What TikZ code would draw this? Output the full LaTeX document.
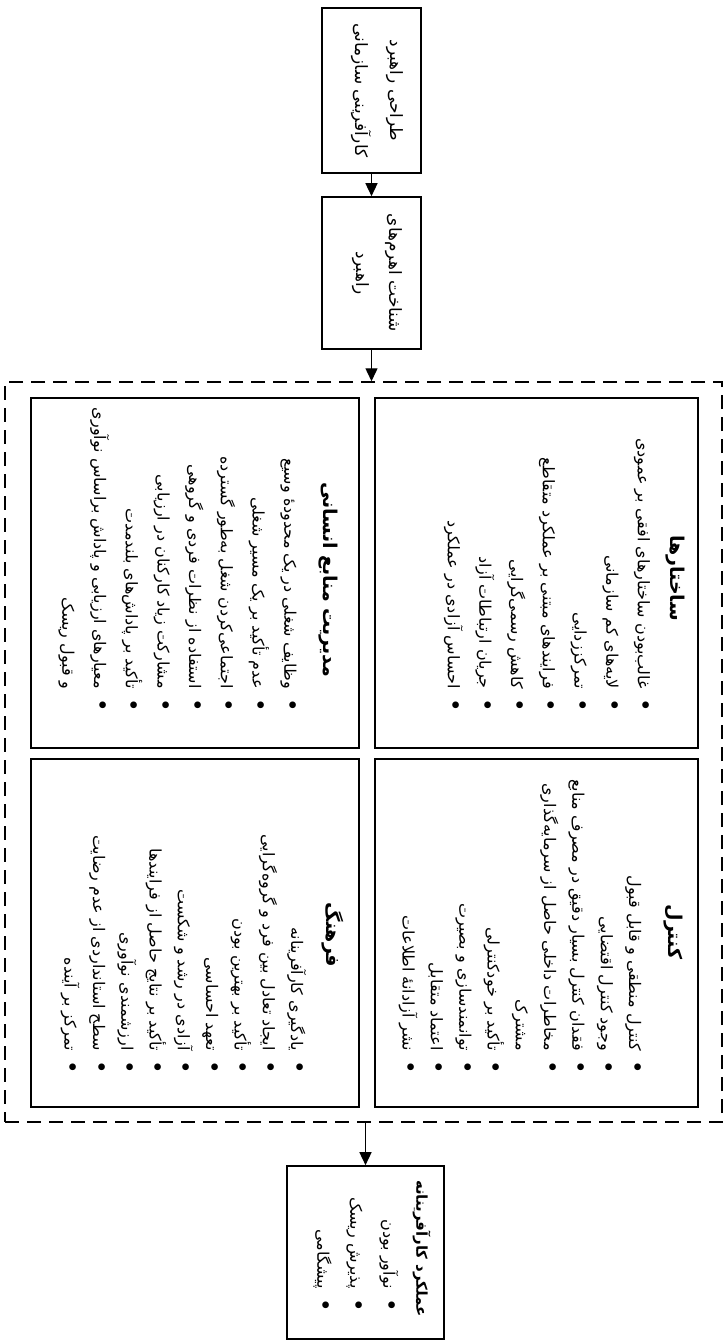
\documentclass[tikz,border=0pt]{standalone}
\usepackage{fontspec}
\usetikzlibrary{arrows.meta}
\TeXXeTstate=1
\newfontfamily\fa[Script=Arabic]{DejaVu Sans}
% one right-to-left line, a bulleted line, and a continued line
\newcommand{\rl}[1]{\beginR#1\endR}
\newcommand{\itm}[1]{\beginR\makebox[1.15em][r]{\fontsize{23}{23}\selectfont •}\hspace{0.6em}#1\endR}
\newcommand{\cont}[1]{\beginR\hspace{1.75em}#1\endR}

\begin{document}
\begin{tikzpicture}[x=1pt,y=1pt,
    flowbox/.style={draw, line width=1.6pt, inner sep=0pt},
    group/.style={draw, line width=1.5pt, dash pattern=on 14pt off 8pt, inner sep=0pt},
    heading/.style={rotate=-90, inner sep=0pt, font=\fa\bfseries\fontsize{19}{24}\selectfont},
    items/.style={rotate=-90, anchor=east, align=right, inner sep=0pt},
    link/.style={line width=1.4pt, -{Triangle[width=12pt,length=13pt]}}]
\useasboundingbox (0,0) rectangle (726,-1341);

% boxes
\node[flowbox, minimum width=99, minimum height=165] (design) at (371.5,-90.5) {};
\node[flowbox, minimum width=99, minimum height=152] (levers) at (371.5,-273) {};
\node[group, minimum width=717, minimum height=740] (group) at (363.5,-752) {};
\node[flowbox, minimum width=323, minimum height=350] (struct) at (536.5,-573) {};
\node[flowbox, minimum width=323, minimum height=348] (control) at (536.5,-933) {};
\node[flowbox, minimum width=328, minimum height=350] (hrm) at (195,-573) {};
\node[flowbox, minimum width=328, minimum height=348] (culture) at (195,-933) {};
\node[flowbox, minimum width=157, minimum height=173] (perf) at (365.5,-1252.5) {};

% arrows
\draw[link] (design) -- (levers);
\draw[link] (levers) -- (levers |- group.north);
\draw[link] (group.south -| perf) -- (perf);

% texts
\node[rotate=-90, align=center, inner sep=0pt, font=\fa\fontsize{17}{35}\selectfont] (designtext) at (377,-90.5)
  {\rl{طراحی راهبرد}\\ \rl{کارآفرینی سازمانی}};
\node[rotate=-90, align=center, inner sep=0pt, font=\fa\fontsize{17}{33}\selectfont] (leverstext) at (377,-273)
  {\rl{شناخت اهرم^^^^200cهای}\\ \rl{راهبرد}};

\node[heading] (structhead) at (675,-578) {\rl{ساختارها}};
\node[items, font=\fa\fontsize{16}{31.7}\selectfont] (structlist) at (547,-717) {%
  \itm{غالب^^^^200cبودن ساختارهای افقی بر عمودی}\\
  \itm{لایه^^^^200cهای کم سازمانی}\\
  \itm{تمرکززدایی}\\
  \itm{فرایندهای مبتنی بر عملکرد متقاطع}\\
  \itm{کاهش رسمی^^^^200cگرایی}\\
  \itm{جریان ارتباطات آزاد}\\
  \itm{احساس آزادی در عملکرد}};

\node[heading] (controlhead) at (673,-932) {\rl{کنترل}};
\node[items, font=\fa\fontsize{16}{28.3}\selectfont] (controllist) at (520,-1079) {%
  \itm{کنترل منطقی و قابل قبول}\\
  \itm{وجود کنترل اقتضایی}\\
  \itm{فقدان کنترل بسیار دقیق در مصرف منابع}\\
  \itm{مخاطرات داخلی حاصل از سرمایه^^^^200cگذاری}\\
  \cont{مشترک}\\
  \itm{تأکید بر خودکنترلی}\\
  \itm{توانمندسازی و بصیرت}\\
  \itm{اعتماد متقابل}\\
  \itm{نشر آزادانهٔ اطلاعات}};

\node[heading] (hrmhead) at (328,-580) {\rl{مدیریت منابع انسانی}};
\node[items, font=\fa\fontsize{16}{31.7}\selectfont] (hrmlist) at (177.5,-717) {%
  \itm{وظایف شغلی در یک محدودهٔ وسیع}\\
  \itm{عدم تأکید بر یک مسیر شغلی}\\
  \itm{اجتماعی^^^^200cکردن شغل به^^^^200cطور گسترده}\\
  \itm{استفاده از نظرات فردی و گروهی}\\
  \itm{مشارکت زیاد کارکنان در ارزیابی}\\
  \itm{تأکید بر پاداش^^^^200cهای بلندمدت}\\
  \itm{معیارهای ارزیابی و پاداش براساس نوآوری}\\
  \cont{و قبول ریسک}};

\node[heading] (culturehead) at (333,-935) {\rl{فرهنگ}};
\node[items, font=\fa\fontsize{16}{28.3}\selectfont] (culturelist) at (183.5,-1079) {%
  \itm{یادگیری کارآفرینانه}\\
  \itm{ایجاد تعادل بین فرد و گروه^^^^200cگرایی}\\
  \itm{تأکید بر بهترین بودن}\\
  \itm{تعهد احساسی}\\
  \itm{آزادی در رشد و شکست}\\
  \itm{تأکید بر نتایج حاصل از فرایندها}\\
  \itm{ارزشمندی نوآوری}\\
  \itm{سطح استانداردی از عدم رضایت}\\
  \itm{تمرکز بر آینده}};

\node[items, font=\fa\fontsize{16}{33}\selectfont] (perflist) at (372,-1317) {%
  {\bfseries\fontsize{15}{33}\selectfont\rl{عملکرد کارآفرینانه}}\\
  \itm{نوآور بودن}\\
  \itm{پذیرش ریسک}\\
  \itm{پیشگامی}};
\end{tikzpicture}
\end{document}
